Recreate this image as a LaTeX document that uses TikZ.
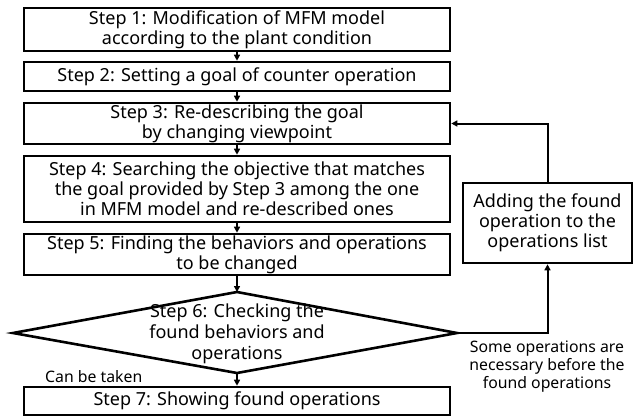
\documentclass[tikz,border=0pt]{standalone}
\usepackage{fontspec}
\setmainfont{Noto Sans}
\usetikzlibrary{arrows.meta,shapes.geometric}
\begin{document}
\begin{tikzpicture}[x=1pt,y=-1pt,
  box/.style={draw,line width=2.6pt,inner sep=0pt,align=center,font=\fontsize{18}{20}\selectfont},
  conn/.style={line width=2pt,-{Triangle[length=6pt,width=6pt]}},
  lbl/.style={align=center,font=\fontsize{15.8}{18}\selectfont,inner sep=0pt}]
\useasboundingbox (0,0) rectangle (638,416);
\node[box,minimum width=426pt,minimum height=43pt] (s1) at (237,29.5) {Step 1: Modification of MFM model\\according to the plant condition};
\node[box,minimum width=426pt,minimum height=29pt] (s2) at (237,76.5) {Step 2: Setting a goal of counter operation};
\node[box,minimum width=426pt,minimum height=41pt] (s3) at (237,123.5) {Step 3: Re-describing the goal\\by changing viewpoint};
\node[box,minimum width=426pt,minimum height=66pt] (s4) at (237,189) {Step 4: Searching the objective that matches\\the goal provided by Step 3 among the one\\in MFM model and re-described ones};
\node[box,minimum width=426pt,minimum height=41pt] (s5) at (237,254.5) {Step 5: Finding the behaviors and operations\\to be changed};
\coordinate (dt) at (237,292);
\coordinate (db) at (237,373);
\coordinate (dl) at (13,333);
\coordinate (dr) at (457,333);
\draw[line width=2.6pt,line join=miter] (dt) -- (dr) -- (db) -- (dl) -- cycle;
\node[align=center,font=\fontsize{18}{21}\selectfont,inner sep=0pt] (s6) at (237,334) {Step 6: Checking the\\found behaviors and\\operations};
\node[box,minimum width=426pt,minimum height=28pt] (s7) at (237,401) {Step 7: Showing found operations};
\node[box,minimum width=169pt,minimum height=80pt] (add) at (547.5,223) {Adding the found\\operation to the\\operations list};
\draw[conn] (s1) -- (s2);
\draw[conn] (s2) -- (s3);
\draw[conn] (s3) -- (s4);
\draw[conn] (s4) -- (s5);
\draw[conn] (s5.south) -- (dt);
\draw[conn] (db) -- (s7);
\draw[conn] (dr) -| (add.south);
\draw[conn] (add.north) |- (s3.east);
\node[lbl,anchor=west] (take) at (45,377) {Can be taken};
\node[lbl] (some) at (547,367) {Some operations are\\necessary before the\\found operations};
\end{tikzpicture}
\end{document}
